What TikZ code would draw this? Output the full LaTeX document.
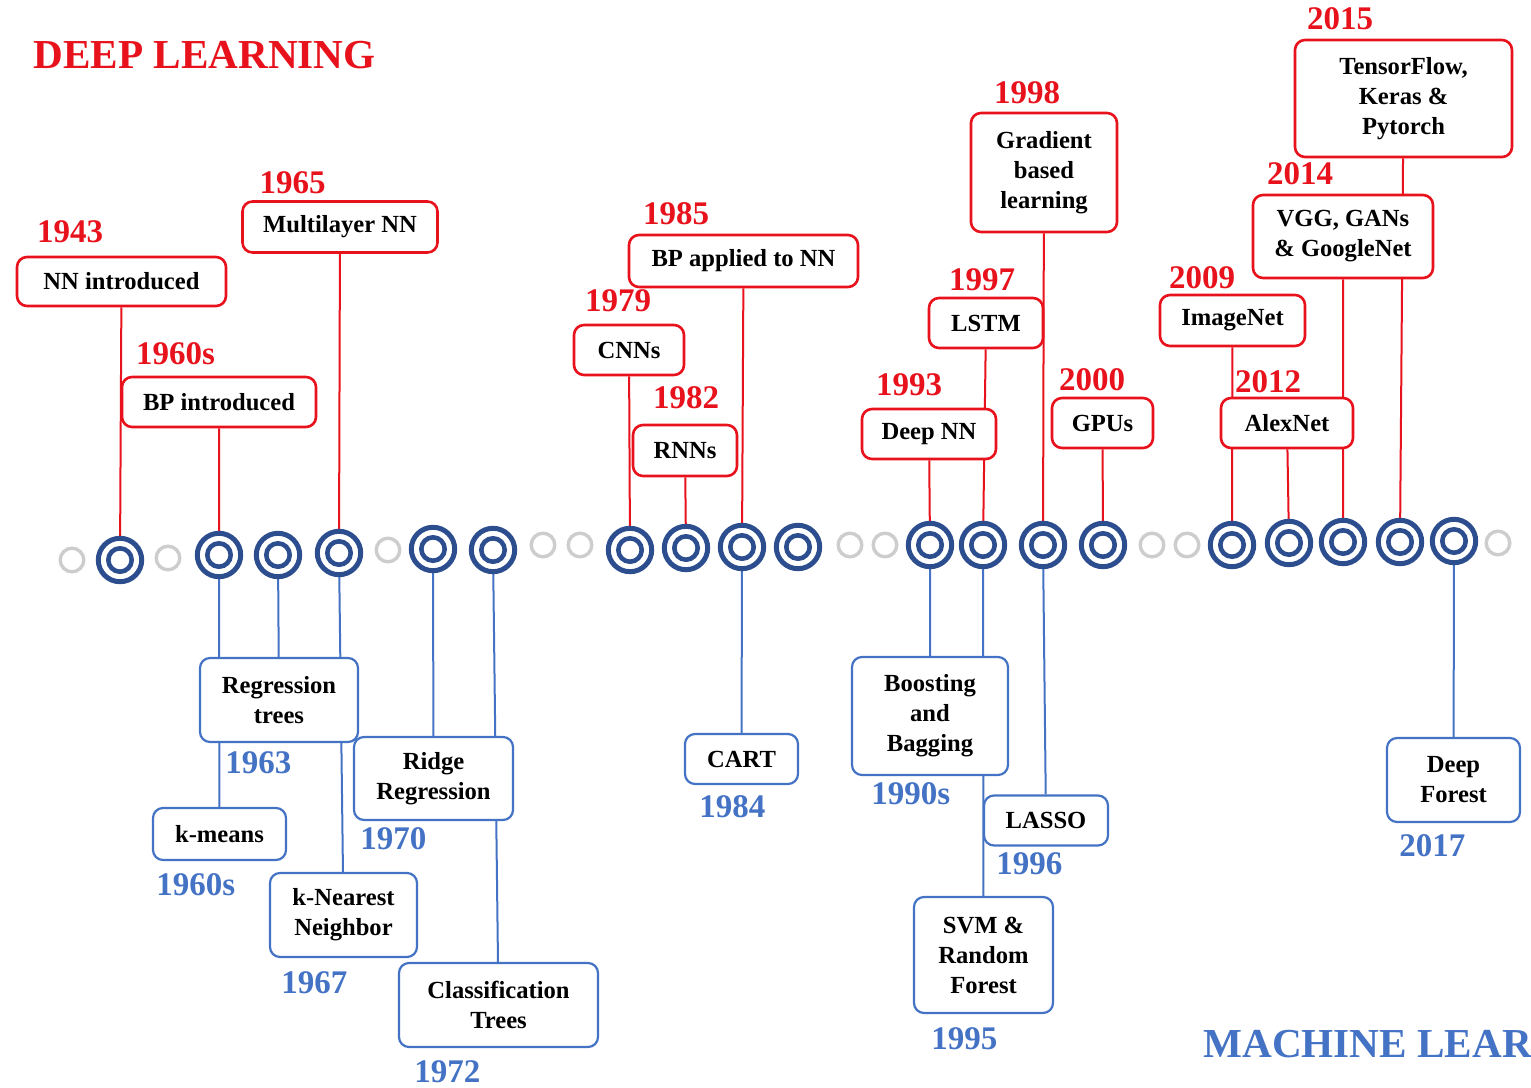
\documentclass[tikz,border=0pt]{standalone}
\usepackage{fontspec}
\setmainfont{Liberation Serif}
\usetikzlibrary{positioning,backgrounds}
\definecolor{dlred}{RGB}{232,18,28}
\definecolor{mlblue}{RGB}{68,114,196}
\definecolor{ringblue}{RGB}{44,78,142}
\definecolor{dotgrey}{RGB}{205,205,205}

\begin{document}
\begin{tikzpicture}[x=0.5pt,y=-0.5pt,
  box/.style={rounded corners=5pt,fill=white,align=center,inner sep=0pt,font=\fontsize{12.3}{15}\selectfont\bfseries},
  redbox/.style={box,draw=dlred,line width=1.3pt},
  bluebox/.style={box,draw=mlblue,line width=1.1pt},
  year/.style={inner sep=0pt,font=\fontsize{16.5}{18}\selectfont\bfseries},
  redyear/.style={year,text=dlred},
  blueyear/.style={year,text=mlblue},
  ring/.style={circle,draw=ringblue,fill=white,line width=2.5pt,minimum size=21.7pt,inner sep=0pt},
  greydot/.style={circle,draw=dotgrey,fill=white,line width=1.7pt,minimum size=11.8pt,inner sep=0pt},
  redline/.style={draw=dlred,line width=1pt},
  blueline/.style={draw=mlblue,line width=1pt},
  title/.style={anchor=base west,inner sep=0pt,font=\fontsize{20.6}{24}\selectfont\bfseries}]
  \useasboundingbox (0,0) rectangle (1531,1087);

  \node[title,text=dlred] (dltitle) at (33,68) {DEEP LEARNING};
  \node[title,text=mlblue] (mltitle) at (1203,1057) {MACHINE LEAR};

  \foreach \n/\x/\y in {1/120/560,2/219/555,3/278/555,4/339/553,5/433/549,6/493/550,
      7/630/550,8/686/548,9/742/547,10/798/547,11/930/545,12/983/545,13/1043/545,
      14/1103/545,15/1232/545,16/1289/543,17/1343/542,18/1400/542,19/1454/541}{
    \node[ring] (c\n) at (\x,\y) {};
    \draw[ringblue,line width=2.3pt] (c\n.center) circle[radius=5.85pt];
  }
  \foreach \x/\y [count=\i] in {72/560,168/558,388/550,543/545,580/545,850/545,885/545,
      1152/545,1187/545,1498/543}
    \node[greydot] (g\i) at (\x,\y) {};

  \node[redbox,minimum width=104.5pt,minimum height=24.5pt] (nn) at (121.5,281.5) {NN introduced};
  \node[redbox,minimum width=97pt,minimum height=25pt] (bpi) at (219,402) {BP introduced};
  \node[redbox,minimum width=97.5pt,minimum height=25.5pt] (mlnn) at (340,227) {Multilayer NN};
  \node[redbox,minimum width=55pt,minimum height=25pt] (cnn) at (629,350) {CNNs};
  \node[redbox,minimum width=52pt,minimum height=25.5pt] (rnn) at (685,450.5) {RNNs};
  \node[redbox,minimum width=114.5pt,minimum height=26pt] (bpnn) at (743.5,261) {BP applied to NN};
  \node[redbox,minimum width=67pt,minimum height=25pt] (dnn) at (929,434) {Deep NN};
  \node[redbox,minimum width=57pt,minimum height=25pt] (lstm) at (986,323) {LSTM};
  \node[redbox,minimum width=73pt,minimum height=59.5pt] (grad) at (1044,172.5) {Gradient\\based\\learning};
  \node[redbox,minimum width=50.5pt,minimum height=25pt] (gpu) at (1102.5,423) {GPUs};
  \node[redbox,minimum width=72.5pt,minimum height=25.5pt] (imnet) at (1232.5,320.5) {ImageNet};
  \node[redbox,minimum width=66pt,minimum height=25pt] (alex) at (1287,423) {AlexNet};
  \node[redbox,minimum width=90pt,minimum height=41.5pt] (vgg) at (1343,236.5) {VGG, GANs\\\& GoogleNet};
  \node[redbox,minimum width=108.5pt,minimum height=58.5pt] (tf) at (1403.5,98.5) {TensorFlow,\\Keras \&\\Pytorch};

  \node[bluebox,minimum width=79pt,minimum height=42pt] (regt) at (279,700) {Regression\\trees};
  \node[bluebox,minimum width=66.5pt,minimum height=26pt] (kmeans) at (219.5,834) {k-means};
  \node[bluebox,minimum width=73.5pt,minimum height=42pt] (knn) at (343.5,915) {k-Nearest\\Neighbor};
  \node[bluebox,minimum width=79.5pt,minimum height=41.5pt] (ridge) at (433.5,778.5) {Ridge\\Regression};
  \node[bluebox,minimum width=99.5pt,minimum height=42pt] (clstree) at (498.5,1005) {Classification\\Trees};
  \node[bluebox,minimum width=56.5pt,minimum height=25pt] (cart) at (741.5,759) {CART};
  \node[bluebox,minimum width=78pt,minimum height=59pt] (boost) at (930,716) {Boosting\\and\\Bagging};
  \node[bluebox,minimum width=62pt,minimum height=25pt] (lasso) at (1046,820.5) {LASSO};
  \node[bluebox,minimum width=69.5pt,minimum height=58pt] (svm) at (983.5,955) {SVM \&\\Random\\Forest};
  \node[bluebox,minimum width=66.5pt,minimum height=42pt] (dforest) at (1453.5,780) {Deep\\Forest};

  \node[redyear,above right=6pt and 10.5pt of nn.north west] (y1943) {1943};
  \node[redyear,above right=5pt and 7.5pt of bpi.north west] (y1960r) {1960s};
  \node[redyear,above right=3pt and 9pt of mlnn.north west] (y1965) {1965};
  \node[redyear,above right=5.5pt and 6pt of cnn.north west] (y1979) {1979};
  \node[redyear,above right=7pt and 10.5pt of rnn.north west] (y1982) {1982};
  \node[redyear,above right=4pt and 7.5pt of bpnn.north west] (y1985) {1985};
  \node[redyear,above right=5.5pt and 7.5pt of dnn.north west] (y1993) {1993};
  \node[redyear,above right=2.5pt and 10.5pt of lstm.north west] (y1997) {1997};
  \node[redyear,above right=3.5pt and 12pt of grad.north west] (y1998) {1998};
  \node[redyear,above right=2.5pt and 4pt of gpu.north west] (y2000) {2000};
  \node[redyear,above right=2pt and 5pt of imnet.north west] (y2009) {2009};
  \node[redyear,above right=1.5pt and 7.5pt of alex.north west] (y2012) {2012};
  \node[redyear,above right=4pt and 7.5pt of vgg.north west] (y2014) {2014};
  \node[redyear,above right=4pt and 6.5pt of tf.north west] (y2015) {2015};

  \node[blueyear,below right=4pt and 13pt of regt.south west] (y1963) {1963};
  \node[blueyear,below right=6pt and 2pt of kmeans.south west] (y1960b) {1960s};
  \node[blueyear,below right=6.5pt and 6pt of knn.south west] (y1967) {1967};
  \node[blueyear,below right=3pt and 3.5pt of ridge.south west] (y1970) {1970};
  \node[blueyear,below right=6pt and 8pt of clstree.south west] (y1972) {1972};
  \node[blueyear,below right=5pt and 7.5pt of cart.south west] (y1984) {1984};
  \node[blueyear,below right=3pt and 10pt of boost.south west] (y1990) {1990s};
  \node[blueyear,below right=3pt and 6.5pt of lasso.south west] (y1996) {1996};
  \node[blueyear,below right=6.5pt and 9pt of svm.south west] (y1995) {1995};
  \node[blueyear,below right=5.5pt and 6.5pt of dforest.south west] (y2017) {2017};

  \begin{scope}[on background layer]
    \path[redline] (nn) -- (c1) (bpi) -- (c2) (mlnn) -- (c4)
      (cnn) -- (c7) (rnn) -- (c8) (bpnn) -- (c9)
      (dnn) -- (c11) (lstm) -- (c12) (grad) -- (c13) (gpu) -- (c14)
      (imnet) -- (c15) (alex) -- (c16) (vgg) -- (c17) (tf) -- (c18);
    \path[blueline] (c2) -- (kmeans) (c3) -- (regt) (c4) -- (knn)
      (c5) -- (ridge) (c6) -- (clstree) (c9) -- (cart)
      (c11) -- (boost) (c12) -- (svm) (c13) -- (lasso) (c19) -- (dforest);
  \end{scope}
\end{tikzpicture}
\end{document}
